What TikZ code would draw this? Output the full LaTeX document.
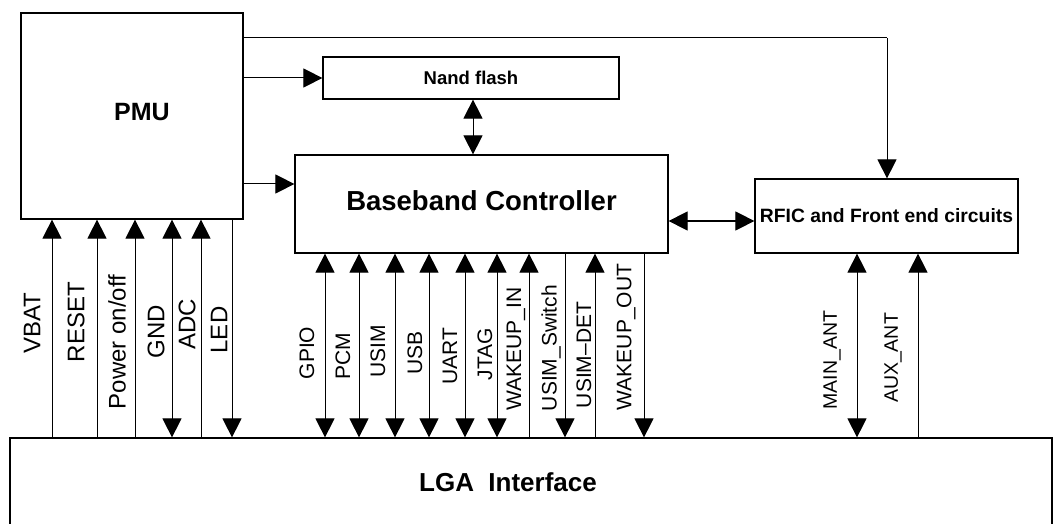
\documentclass[tikz,border=0pt]{standalone}
\usepackage{fontspec}
\setmainfont{Liberation Sans}
\usetikzlibrary{arrows.meta}
\tikzset{
  x=1pt, y=-1pt,
  blk/.style={draw, line width=1.2pt, inner sep=0pt, fill=white},
  ttl/.style={font=\fontsize{#1}{#1}\bfseries\selectfont, inner sep=0pt},
  lbl/.style={rotate=90, font=\fontsize{#1}{#1}\selectfont, inner sep=0pt},
  tip/.tip={Triangle[length=19pt,width=19pt]},
  conn/.style={line width=1pt},
  up/.style={conn, -tip},
  dn/.style={conn, -tip},
  bi/.style={conn, tip-tip},
}
\begin{document}
\begin{tikzpicture}
\useasboundingbox (0,0) rectangle (1053,524);
\clip (0,0) rectangle (1053,524);
\fill[white] (0,0) rectangle (1053,524);
% blocks
\node[blk, minimum width=222pt, minimum height=206pt] (pmu) at (132,116) {};
\node[ttl=25] (pmutext) at (142,112) {PMU};
\node[blk, minimum width=296pt, minimum height=42pt, ttl=18.5] (nand) at (471,78) {Nand flash};
\node[blk, minimum width=373pt, minimum height=98pt, ttl=27.5] (bb) at (481.5,204) {\raisebox{6pt}{Baseband Controller}};
\node[blk, minimum width=263pt, minimum height=74pt, ttl=19.3] (rf) at (886.5,216) {\raisebox{-3pt}{RFIC and Front end circuits}};
\node[blk, minimum width=1042pt, minimum height=120pt] (lga) at (531,498) {};
\node[ttl=26] (lgatext) at (508,482) {LGA\ \ Interface};
% PMU outputs
\coordinate (rfin) at (887,38);
\draw[conn] (pmu.east |- rfin) -- (rfin);
\draw[dn] (rfin) -- (rfin |- rf.north);
\draw[up] (pmu.east |- nand.west) -- (nand.west);
\draw[up] (pmu.east |- 0,184) -- (bb.west |- 0,184);
\draw[bi] (nand.south -| 473,0) -- (bb.north -| 473,0);
\draw[bi] (bb.east |- 0,221) -- (rf.west |- 0,221);
% PMU interface lines
\draw[up] (52,0 |- lga.north) -- (52,0 |- pmu.south);
\draw[up] (97,0 |- lga.north) -- (97,0 |- pmu.south);
\draw[up] (135,0 |- lga.north) -- (135,0 |- pmu.south);
\draw[bi] (172,0 |- lga.north) -- (172,0 |- pmu.south);
\draw[up] (201,0 |- lga.north) -- (201,0 |- pmu.south);
\draw[dn] (232,0 |- pmu.south) -- (232,0 |- lga.north);
\node[lbl=24] (l1) at (32,323) {VBAT};
\node[lbl=24] (l2) at (76,322) {RESET};
\node[lbl=24] (l3) at (117,342) {Power on/off};
\node[lbl=24] (l4) at (156,332) {GND};
\node[lbl=24] (l5) at (187,324) {ADC};
\node[lbl=24] (l6) at (219,330) {LED};
% baseband interface lines
\draw[bi] (325,0 |- lga.north) -- (325,0 |- bb.south);
\draw[bi] (359,0 |- lga.north) -- (359,0 |- bb.south);
\draw[bi] (395,0 |- lga.north) -- (395,0 |- bb.south);
\draw[bi] (429,0 |- lga.north) -- (429,0 |- bb.south);
\draw[bi] (465,0 |- lga.north) -- (465,0 |- bb.south);
\draw[bi] (497,0 |- lga.north) -- (497,0 |- bb.south);
\draw[up] (529,0 |- lga.north) -- (529,0 |- bb.south);
\draw[dn] (565,0 |- bb.south) -- (565,0 |- lga.north);
\draw[up] (595,0 |- lga.north) -- (595,0 |- bb.south);
\draw[dn] (644,0 |- bb.south) -- (644,0 |- lga.north);
\node[lbl=21] (m1) at (307,353) {GPIO};
\node[lbl=21] (m2) at (343,356) {PCM};
\node[lbl=21] (m3) at (378,351) {USIM};
\node[lbl=21] (m4) at (415,353) {USB};
\node[lbl=21] (m5) at (450,356) {UART};
\node[lbl=21] (m6) at (485,354) {JTAG};
\node[lbl=21] (m7) at (516,349) {WAKEUP\_IN};
\node[lbl=21] (m8) at (551,348) {USIM\_Switch};
\node[lbl=21] (m9) at (584,355) {USIM–DET};
\node[lbl=21] (m10) at (626,337) {WAKEUP\_OUT};
% antennas
\draw[bi] (857,0 |- lga.north) -- (857,0 |- rf.south);
\draw[up] (918,0 |- lga.north) -- (918,0 |- rf.south);
\node[lbl=19.5] (a1) at (832,360) {MAIN\_ANT};
\node[lbl=19.5] (a2) at (893,358) {AUX\_ANT};
\end{tikzpicture}
\end{document}
